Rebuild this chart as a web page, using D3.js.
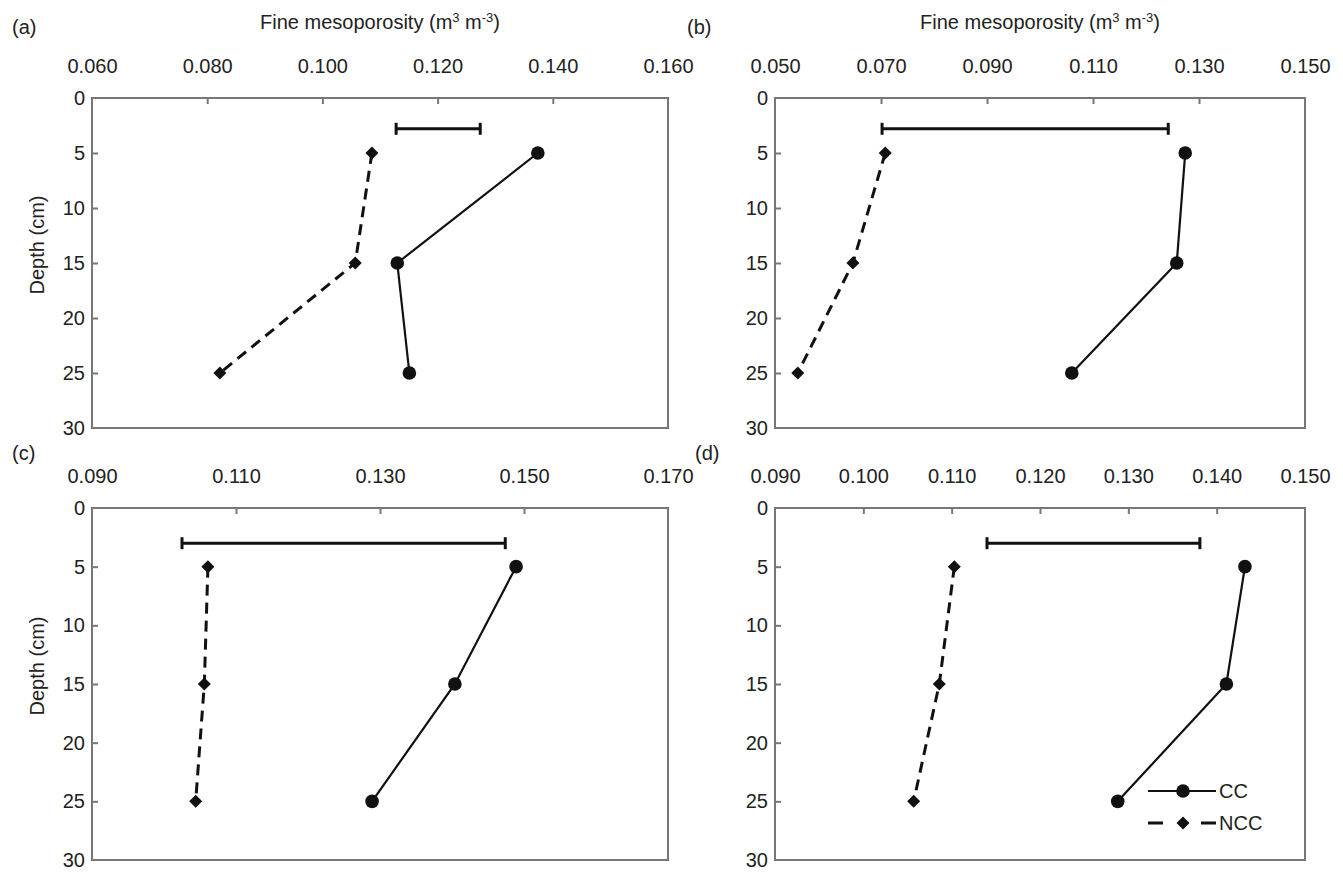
<!DOCTYPE html>
<html>
<head>
<meta charset="utf-8">
<script src="https://cdn.jsdelivr.net/npm/d3@7"></script>
<style>
  body { margin: 0; background: #fff; }
  svg { font-family: "Liberation Sans", Arial, sans-serif; }
</style>
</head>
<body>
<div id="chart"></div>
<script>
// depths (cm) of the three sampled layers
const depths = [5, 15, 25]
const depthTicks = [0, 5, 10, 15, 20, 25, 30]

// panel (a)
const ticksA = [0.060, 0.080, 0.100, 0.120, 0.140, 0.160]
const ccA = [0.1374, 0.1130, 0.1151]
const nccA = [0.1086, 0.1057, 0.0822]
const lsdA = [0.1128, 0.1274]

// panel (b)
const ticksB = [0.050, 0.070, 0.090, 0.110, 0.130, 0.150]
const ccB = [0.1274, 0.1258, 0.1060]
const nccB = [0.0708, 0.0647, 0.0543]
const lsdB = [0.0702, 0.1242]

// panel (c)
const ticksC = [0.090, 0.110, 0.130, 0.150, 0.170]
const ccC = [0.1489, 0.1404, 0.1289]
const nccC = [0.1061, 0.1056, 0.1044]
const lsdC = [0.1025, 0.1474]

// panel (d)
const ticksD = [0.090, 0.100, 0.110, 0.120, 0.130, 0.140, 0.150]
const ccD = [0.1432, 0.1411, 0.1288]
const nccD = [0.1103, 0.1086, 0.1057]
const lsdD = [0.1140, 0.1381]

const lsdDepth = [2.8, 2.8, 3.0, 3.0]
const seriesNames = ['CC', 'NCC']

const width = 1343, height = 873

const svg = d3.select('#chart').append('svg')
  .attr('width', width)
  .attr('height', height)

const panels = [
  {tag: '(a)', ticks: ticksA, cc: ccA, ncc: nccA, lsd: lsdA, left: 92, right: 668, top: 98, bottom: 428, title: true, ylab: true, tagX: 12, tagY: 34},
  {tag: '(b)', ticks: ticksB, cc: ccB, ncc: nccB, lsd: lsdB, left: 775, right: 1305, top: 98, bottom: 428, title: true, ylab: false, tagX: 687, tagY: 34},
  {tag: '(c)', ticks: ticksC, cc: ccC, ncc: nccC, lsd: lsdC, left: 92, right: 668, top: 508, bottom: 860, title: false, ylab: true, tagX: 12, tagY: 460},
  {tag: '(d)', ticks: ticksD, cc: ccD, ncc: nccD, lsd: lsdD, left: 775, right: 1305, top: 508, bottom: 860, title: false, ylab: false, tagX: 695, tagY: 460}
]

const fmt = d3.format('.3f')
const fontSize = 20
const starMark = d3.symbol(d3.symbolSquare, 85)

function drawPanel (p, i) {
  const x = d3.scaleLinear()
    .domain([p.ticks[0], p.ticks[p.ticks.length - 1]])
    .range([p.left, p.right])
  const y = d3.scaleLinear()
    .domain([0, 30])
    .range([p.top, p.bottom])

  const g = svg.append('g')

  // frame
  g.append('rect')
    .attr('x', p.left).attr('y', p.top)
    .attr('width', p.right - p.left).attr('height', p.bottom - p.top)
    .attr('fill', 'none').attr('stroke', '#777').attr('stroke-width', 2)

  // top axis
  const axX = g.append('g')
    .attr('transform', `translate(0,${p.top})`)
    .call(d3.axisTop(x).tickValues(p.ticks).tickFormat(fmt).tickSize(-6).tickPadding(25))
  axX.select('.domain').remove()
  axX.selectAll('.tick line').attr('stroke', '#777').attr('stroke-width', 2)
    .filter((d, j) => j === 0 || j === p.ticks.length - 1).remove()
  axX.selectAll('text').attr('font-size', fontSize).attr('fill', '#222').attr('font-family', null)

  // left axis
  const axY = g.append('g')
    .attr('transform', `translate(${p.left},0)`)
    .call(d3.axisLeft(y).tickValues(depthTicks).tickSize(-6).tickPadding(7))
  axY.select('.domain').remove()
  axY.selectAll('.tick line').attr('stroke', '#777').attr('stroke-width', 2)
    .filter((d, j) => j === 0 || j === depthTicks.length - 1).remove()
  axY.selectAll('text').attr('font-size', fontSize).attr('fill', '#222').attr('font-family', null)

  // panel tag
  g.append('text')
    .attr('x', p.tagX).attr('y', p.tagY)
    .attr('font-size', fontSize).attr('fill', '#222')
    .text(p.tag)

  if (p.title) {
    const t = g.append('text')
      .attr('x', (p.left + p.right) / 2).attr('y', 29)
      .attr('text-anchor', 'middle')
      .attr('font-size', fontSize).attr('fill', '#222')
    t.append('tspan').text('Fine mesoporosity (m')
    t.append('tspan').attr('font-size', 13).attr('dy', -7).text('3')
    t.append('tspan').attr('dy', 7).text(' m')
    t.append('tspan').attr('font-size', 13).attr('dy', -7).text('-3')
    t.append('tspan').attr('dy', 7).text(')')
  }

  if (p.ylab) {
    g.append('text')
      .attr('transform', `translate(44,${(p.top + p.bottom) / 2 - 18}) rotate(-90)`)
      .attr('text-anchor', 'middle')
      .attr('font-size', fontSize).attr('fill', '#222')
      .text('Depth (cm)')
  }

  // LSD bar
  const ly = y(lsdDepth[i])
  g.append('line')
    .attr('x1', x(p.lsd[0])).attr('x2', x(p.lsd[1]))
    .attr('y1', ly).attr('y2', ly)
    .attr('stroke', '#111').attr('stroke-width', 3)
  g.selectAll('.cap').data(p.lsd).join('line')
    .attr('x1', d => x(d)).attr('x2', d => x(d))
    .attr('y1', ly - 6).attr('y2', ly + 6)
    .attr('stroke', '#111').attr('stroke-width', 3)

  const line = d3.line()
    .x(d => x(d[0]))
    .y(d => y(d[1]))

  const ccPts = p.cc.map((v, j) => [v, depths[j]])
  const nccPts = p.ncc.map((v, j) => [v, depths[j]])

  g.append('path').datum(nccPts)
    .attr('d', line)
    .attr('fill', 'none').attr('stroke', '#111')
    .attr('stroke-width', 3).attr('stroke-dasharray', '11,7')
  g.append('path').datum(ccPts)
    .attr('d', line)
    .attr('fill', 'none').attr('stroke', '#111')
    .attr('stroke-width', 2.2)

  g.selectAll('.cc').data(ccPts).join('circle')
    .attr('cx', d => x(d[0])).attr('cy', d => y(d[1]))
    .attr('r', 6.8).attr('fill', '#111')
  g.selectAll('.ncc').data(nccPts).join('path')
    .attr('d', starMark)
    .attr('transform', d => `translate(${x(d[0])},${y(d[1])}) rotate(45)`)
    .attr('fill', '#111')
}

panels.forEach(drawPanel)

// legend inside panel (d)
const legend = svg.append('g').attr('transform', 'translate(1148,791)')
seriesNames.forEach((name, i) => {
  const row = legend.append('g').attr('transform', `translate(0,${i * 32})`)
  row.append('line')
    .attr('x1', 0).attr('x2', 68).attr('y1', 0).attr('y2', 0)
    .attr('stroke', '#111')
    .attr('stroke-width', i === 0 ? 2.2 : 3)
    .attr('stroke-dasharray', i === 0 ? null : '15,38,15')
  if (i === 0) {
    row.append('circle').attr('cx', 35).attr('cy', 0).attr('r', 6.8).attr('fill', '#111')
  } else {
    row.append('path').attr('d', starMark)
      .attr('transform', 'translate(35,0) rotate(45)').attr('fill', '#111')
  }
  row.append('text')
    .attr('x', 71).attr('y', 7)
    .attr('font-size', fontSize).attr('fill', '#222')
    .text(name)
})
</script>
</body>
</html>
